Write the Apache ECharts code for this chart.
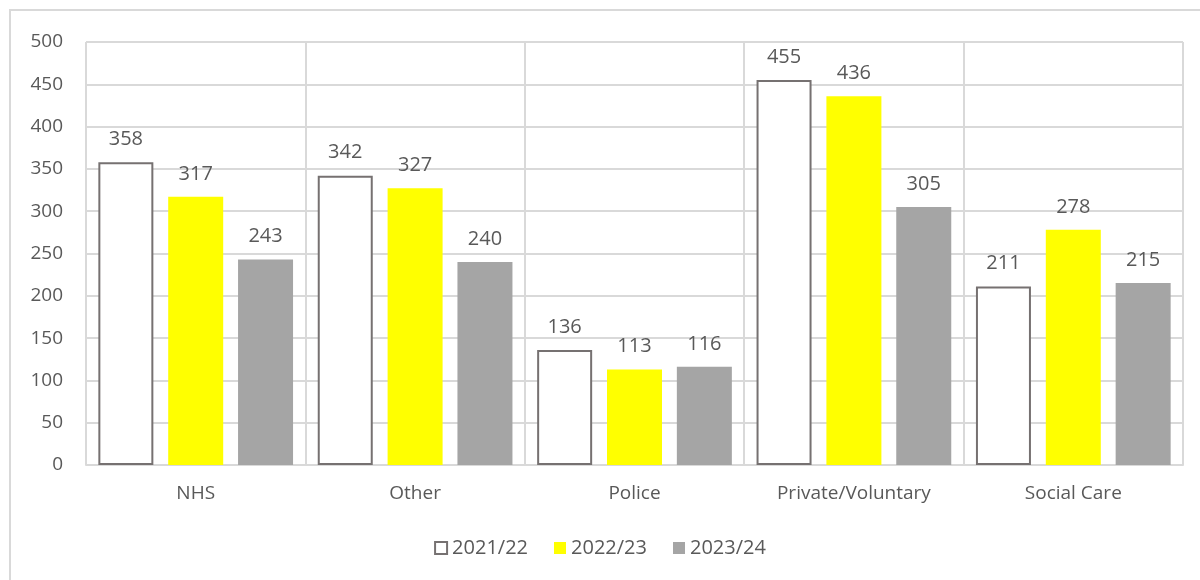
<!DOCTYPE html>
<html>
<head>
<meta charset="utf-8">
<script src="https://cdn.jsdelivr.net/npm/echarts@6/dist/echarts.min.js"></script>
<style>
    html, body { margin: 0; padding: 0; background: #fff; }
    #chart { width: 1200px; height: 580px; }
</style>
</head>
<body>
<div id="chart"></div>
<script>
var categories = ['NHS', 'Other', 'Police', 'Private/Voluntary', 'Social Care']
var seriesNames = ['2021/22', '2022/23', '2023/24']
var values2122 = [358, 342, 136, 455, 211]
var values2223 = [317, 327, 113, 436, 278]
var values2324 = [243, 240, 116, 305, 215]
var yTicks = [0, 50, 100, 150, 200, 250, 300, 350, 400, 450, 500]

var textColor = '#595959'
var gridColor = '#D9D9D9'
var fontFamily = '"Open Sans", "Liberation Sans", sans-serif'

var chart = echarts.init(document.getElementById('chart'))

function labelOpt () { // 柱顶数值
    return {
        show: true,
        position: 'top',
        distance: 13,
        color: textColor,
        fontSize: 20,
        fontFamily: fontFamily
    }
}

var option = {
    animation: false,
    backgroundColor: '#fff',
    graphic: [{
        type: 'rect',
        shape: { x: 10, y: 10, width: 1200, height: 600 },
        style: { fill: 'none', stroke: gridColor, lineWidth: 2 },
        z: -1
    }],
    grid: { left: 86, right: 17, top: 42, bottom: 115 },
    legend: {
        bottom: 17,
        left: 'center',
        itemWidth: 12,
        itemHeight: 12,
        itemGap: 26,
        textStyle: { color: textColor, fontSize: 20, fontFamily: fontFamily },
        data: [
            { name: seriesNames[0], icon: 'rect', itemStyle: { color: '#fff', borderColor: '#767171', borderWidth: 2 } },
            { name: seriesNames[1], icon: 'rect' },
            { name: seriesNames[2], icon: 'rect' }
        ]
    },
    xAxis: {
        type: 'category',
        data: categories,
        axisLine: { show: true, lineStyle: { color: gridColor, width: 2 } },
        axisTick: { show: false },
        splitLine: { show: true, interval: 0, lineStyle: { color: gridColor, width: 2 } },
        axisLabel: { color: textColor, fontSize: 19, fontFamily: fontFamily, margin: 19 }
    },
    yAxis: {
        type: 'value',
        min: yTicks[0],
        max: yTicks[yTicks.length - 1],
        interval: 50,
        axisLine: { show: false },
        axisTick: { show: false },
        splitLine: { show: true, lineStyle: { color: gridColor, width: 2 } },
        axisLabel: { color: textColor, fontSize: 19, fontFamily: fontFamily, margin: 23 }
    },
    series: [
        {
            name: seriesNames[0],
            type: 'bar',
            data: values2122,
            barWidth: 55,
            barGap: '27%',
            itemStyle: { color: '#fff', borderColor: '#767171', borderWidth: 2 },
            label: labelOpt()
        },
        {
            name: seriesNames[1],
            type: 'bar',
            data: values2223,
            barWidth: 55,
            barGap: '27%',
            itemStyle: { color: '#FFFF00' },
            label: labelOpt()
        },
        {
            name: seriesNames[2],
            type: 'bar',
            data: values2324,
            barWidth: 55,
            barGap: '27%',
            itemStyle: { color: '#A5A5A5' },
            label: labelOpt()
        }
    ]
}

chart.setOption(option)
</script>
</body>
</html>
